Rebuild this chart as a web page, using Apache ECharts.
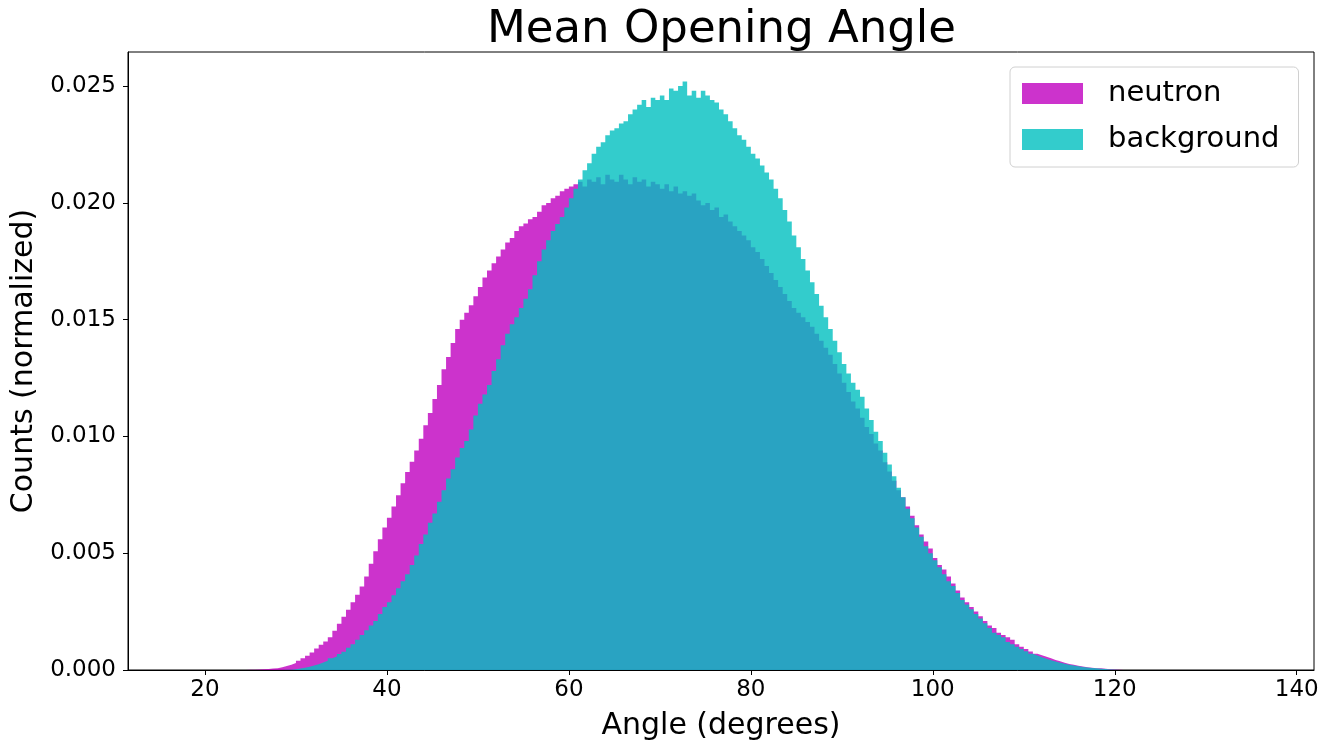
<!DOCTYPE html>
<html>
<head>
<meta charset="utf-8">
<script src="https://cdn.jsdelivr.net/npm/echarts@6/dist/echarts.min.js"></script>
<style>
  html, body { margin: 0; padding: 0; background: #fff; }
  #main { width: 1333px; height: 742px; }
</style>
</head>
<body>
<div id="main"></div>
<script>
// histogram bins: 0.5 degree wide, first edge at 24 deg
const binStart = 24
const binWidth = 0.5

// normalized counts per bin, one row = 5 degrees (10 bins)
const neutron = [
  0, 0.00001, 0.00001, 0.00002, 0.00003, 0.00004, 0.00006, 0.00008, 0.00012, 0.00017,
  0.00022, 0.00030, 0.00040, 0.00050, 0.00061, 0.00075, 0.00092, 0.00108, 0.00122, 0.00140,
  0.00168, 0.00198, 0.00228, 0.00258, 0.00290, 0.00322, 0.00358, 0.00400, 0.00455, 0.00508,
  0.00560, 0.00610, 0.00652, 0.00700, 0.00748, 0.00800, 0.00848, 0.00892, 0.00940, 0.00990,
  0.01048, 0.01100, 0.01160, 0.01220, 0.01288, 0.01340, 0.01400, 0.01460, 0.01500, 0.01530,
  0.01562, 0.01600, 0.01640, 0.01680, 0.01710, 0.01742, 0.01770, 0.01800, 0.01830, 0.01850,
  0.01880, 0.01900, 0.01912, 0.01930, 0.01940, 0.01962, 0.01990, 0.02000, 0.02020, 0.02030,
  0.02050, 0.02060, 0.02070, 0.02080, 0.02090, 0.02070, 0.02100, 0.02090, 0.02110, 0.02080,
  0.02120, 0.02100, 0.02090, 0.02120, 0.02100, 0.02080, 0.02110, 0.02090, 0.02100, 0.02070,
  0.02090, 0.02080, 0.02060, 0.02080, 0.02050, 0.02070, 0.02040, 0.02050, 0.02030, 0.02040,
  0.02010, 0.01990, 0.02000, 0.01970, 0.01980, 0.01940, 0.01950, 0.01920, 0.01900, 0.01880,
  0.01860, 0.01840, 0.01810, 0.01790, 0.01760, 0.01730, 0.01700, 0.01670, 0.01640, 0.01610,
  0.01580, 0.01550, 0.01530, 0.01510, 0.01490, 0.01470, 0.01440, 0.01410, 0.01380, 0.01350,
  0.01310, 0.01270, 0.01230, 0.01190, 0.01150, 0.01120, 0.01080, 0.01040, 0.01010, 0.00970,
  0.00940, 0.00890, 0.00850, 0.00810, 0.00770, 0.00740, 0.00700, 0.00660, 0.00620, 0.00580,
  0.00550, 0.00520, 0.00480, 0.00450, 0.00430, 0.00400, 0.00370, 0.00340, 0.00310, 0.00290,
  0.00270, 0.00250, 0.00230, 0.00210, 0.00190, 0.00180, 0.00160, 0.00150, 0.00140, 0.00130,
  0.00110, 0.00100, 0.00090, 0.00079, 0.00070, 0.00063, 0.00057, 0.00050, 0.00043, 0.00037,
  0.00031, 0.00026, 0.00022, 0.00018, 0.00015, 0.00012, 0.00010, 0.00008, 0.00007, 0.00005,
  0.00003, 0.00002, 0.00001, 0
]

const background = [
  0, 0, 0, 0, 0, 0, 0, 0, 0, 0.00001,
  0.00001, 0.00003, 0.00006, 0.00010, 0.00014, 0.00019, 0.00025, 0.00032, 0.00040, 0.00050,
  0.00058, 0.00068, 0.00078, 0.00095, 0.00110, 0.00130, 0.00150, 0.00170, 0.00190, 0.00210,
  0.00240, 0.00270, 0.00290, 0.00320, 0.00350, 0.00380, 0.00410, 0.00450, 0.00490, 0.00540,
  0.00580, 0.00630, 0.00670, 0.00720, 0.00770, 0.00820, 0.00860, 0.00910, 0.00950, 0.00980,
  0.01030, 0.01090, 0.01140, 0.01180, 0.01220, 0.01280, 0.01330, 0.01390, 0.01440, 0.01480,
  0.01510, 0.01550, 0.01590, 0.01630, 0.01690, 0.01750, 0.01800, 0.01840, 0.01880, 0.01910,
  0.01940, 0.01980, 0.02020, 0.02060, 0.02100, 0.02140, 0.02170, 0.02210, 0.02240, 0.02260,
  0.02290, 0.02310, 0.02320, 0.02340, 0.02350, 0.02380, 0.02400, 0.02420, 0.02440, 0.02410,
  0.02450, 0.02440, 0.02460, 0.02440, 0.02490, 0.02480, 0.02500, 0.02520, 0.02460, 0.02480,
  0.02450, 0.02480, 0.02460, 0.02440, 0.02430, 0.02400, 0.02380, 0.02350, 0.02320, 0.02290,
  0.02270, 0.02240, 0.02210, 0.02190, 0.02160, 0.02130, 0.02100, 0.02060, 0.02020, 0.01970,
  0.01920, 0.01860, 0.01810, 0.01760, 0.01710, 0.01660, 0.01610, 0.01560, 0.01510, 0.01460,
  0.01410, 0.01360, 0.01310, 0.01270, 0.01230, 0.01200, 0.01170, 0.01120, 0.01070, 0.01020,
  0.00980, 0.00930, 0.00880, 0.00830, 0.00780, 0.00740, 0.00690, 0.00650, 0.00610, 0.00570,
  0.00530, 0.00500, 0.00470, 0.00440, 0.00410, 0.00380, 0.00360, 0.00330, 0.00300, 0.00280,
  0.00260, 0.00240, 0.00220, 0.00200, 0.00180, 0.00160, 0.00150, 0.00140, 0.00120, 0.00110,
  0.00100, 0.00090, 0.00080, 0.00070, 0.00062, 0.00055, 0.00048, 0.00042, 0.00036, 0.00031,
  0.00027, 0.00023, 0.00019, 0.00016, 0.00013, 0.00011, 0.00009, 0.00007, 0.00005, 0.00004,
  0.00002, 0.00001, 0, 0
]

const xTicks = [20, 40, 60, 80, 100, 120, 140]
const yTicks = [0, 0.005, 0.010, 0.015, 0.020, 0.025]

const font = 'DejaVu Sans'

// bin left edges -> step points, plus the closing right edge
function toSteps(vals) {
  const pts = vals.map((v, i) => [binStart + i * binWidth, v])
  pts.push([binStart + vals.length * binWidth, vals[vals.length - 1]])
  return pts
}

function histSeries(name, color, vals) {
  return {
    name: name,
    type: 'line',
    step: 'end',
    symbol: 'none',
    silent: true,
    emphasis: { disabled: true },
    itemStyle: { color: color },
    lineStyle: { width: 0, opacity: 0 },
    areaStyle: { color: color, opacity: 0.8 },
    data: toSteps(vals)
  }
}

const chart = echarts.init(document.getElementById('main'))
const option = {
  animation: false,
  backgroundColor: '#fff',
  title: {
    text: 'Mean Opening Angle',
    left: 482,
    top: 3,
    textStyle: { fontFamily: font, fontSize: 45, fontWeight: 'normal', color: '#000' }
  },
  legend: {
    orient: 'vertical',
    left: 1010,
    top: 67,
    padding: [12, 19, 13, 12],
    itemWidth: 61,
    itemHeight: 21,
    itemGap: 17,
    borderColor: '#d0d0d0',
    borderWidth: 1,
    borderRadius: 5,
    backgroundColor: 'rgba(255,255,255,0.8)',
    selectedMode: false,
    textStyle: { fontFamily: font, fontSize: 29, color: '#000', padding: [0, 0, 0, 20] },
    data: [
      { name: 'neutron', icon: 'rect', itemStyle: { color: '#cc33cc' } },
      { name: 'background', icon: 'rect', itemStyle: { color: '#33cccc' } }
    ]
  },
  grid: {
    left: 128,
    right: 19,
    top: 52,
    bottom: 72,
    outerBoundsMode: 'none',
    show: true,
    borderColor: '#000',
    borderWidth: 1
  },
  xAxis: {
    type: 'value',
    min: 11.54,
    max: 141.9,
    z: 10,
    name: 'Angle (degrees)',
    nameLocation: 'middle',
    nameGap: 41,
    nameTextStyle: { fontFamily: font, fontSize: 30, color: '#000' },
    axisLine: { show: true, lineStyle: { color: '#000', width: 1 } },
    axisTick: { show: true, length: 5, lineStyle: { color: '#000' }, customValues: xTicks },
    axisLabel: { fontFamily: font, fontSize: 23, color: '#000', margin: 9, customValues: xTicks },
    splitLine: { show: false }
  },
  yAxis: {
    type: 'value',
    min: 0,
    max: 0.02646,
    z: 10,
    name: 'Counts (normalized)',
    nameLocation: 'middle',
    nameGap: 85,
    nameTextStyle: { fontFamily: font, fontSize: 30, color: '#000' },
    axisLine: { show: true, lineStyle: { color: '#000', width: 1 } },
    axisTick: { show: true, length: 5, lineStyle: { color: '#000' }, customValues: yTicks },
    axisLabel: {
      fontFamily: font, fontSize: 23, color: '#000', margin: 12,
      customValues: yTicks,
      formatter: v => v.toFixed(3)
    },
    splitLine: { show: false }
  },
  series: [
    histSeries('neutron', '#bf00bf', neutron),
    histSeries('background', '#00bfbf', background)
  ]
}
chart.setOption(option)
</script>
</body>
</html>
